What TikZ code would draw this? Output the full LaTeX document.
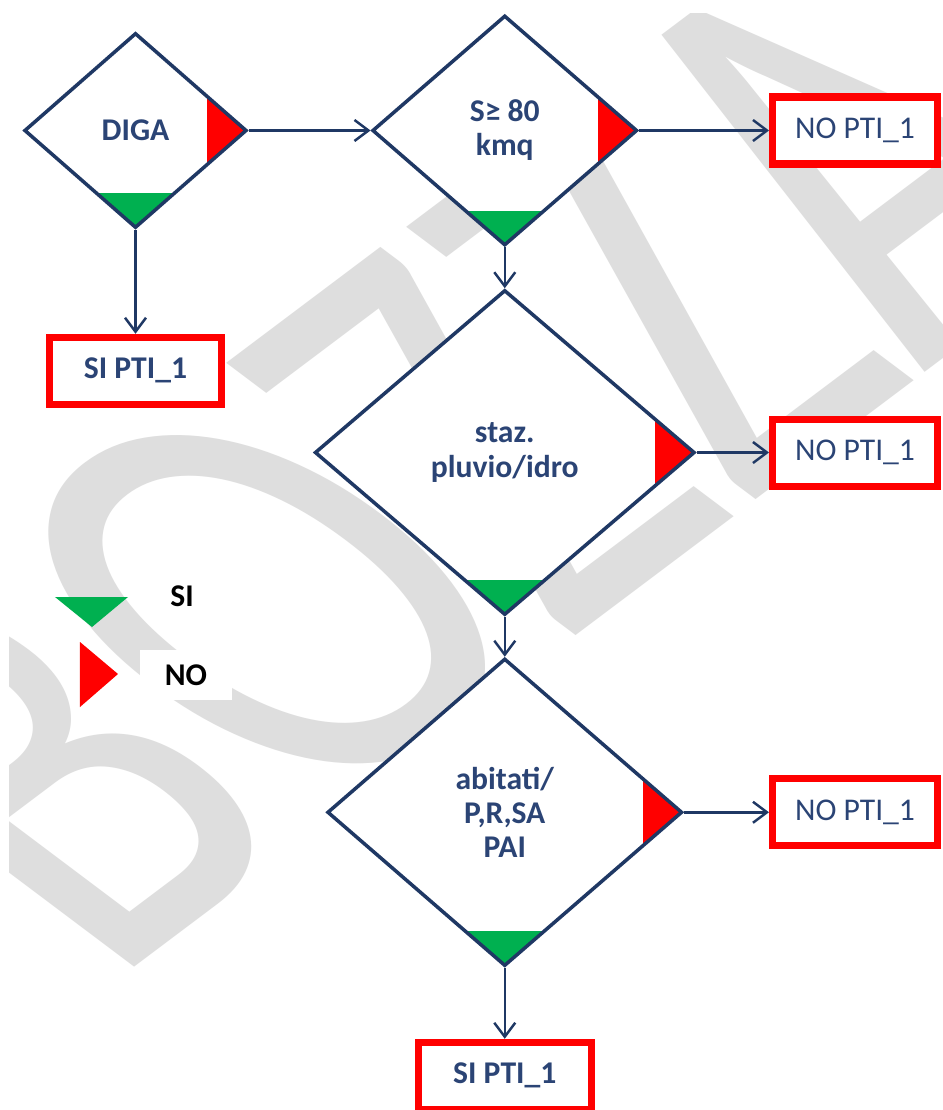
\documentclass[tikz,border=0pt]{standalone}
\usepackage{fontspec}
\usepackage{graphicx}
\setmainfont{Carlito}
\usetikzlibrary{positioning, shapes.geometric, arrows.meta}
\definecolor{navy}{HTML}{1F3864}
\definecolor{navytext}{HTML}{2B4475}
\definecolor{nored}{HTML}{FF0000}
\definecolor{sigreen}{HTML}{00B050}
\definecolor{wmgray}{HTML}{DEDEDE}
\newcommand{\chartfont}{\fontsize{18}{19.4}\selectfont}
\tikzset{decision/.style={diamond, draw=navy, line width=2pt, fill=white, text=navytext, font=\chartfont\bfseries, align=center, inner sep=0pt,
    path picture={
      \fill[nored] ([xshift=-0.78cm]path picture bounding box.north east) rectangle (path picture bounding box.south east);
      \fill[sigreen] (path picture bounding box.south west) rectangle ([yshift=0.68cm]path picture bounding box.south east);}},
  outcome/.style={draw=nored, line width=4pt, fill=white, text=navytext, font=\chartfont, minimum width=3.3cm, minimum height=1.34cm},
  legendtext/.style={fill=white, font=\chartfont\bfseries, inner xsep=0.5cm, minimum height=1cm},
  line/.style={draw=navy, line width=1.4pt, -{Straight Barb[length=0.28cm, width=0.42cm]}}
}
\begin{document}
\begin{tikzpicture}
\path[use as bounding box, fill=white] (-2.71,2.61) rectangle (16.15,-19.59);

\begin{scope}
\clip (-2.51,2.33) rectangle (16.15,-19.59);
\begin{scope}[shift={(6.27,-6.65)}, xscale=1.33, rotate=45]
\node[transform shape, text=wmgray, font=\fontsize{233}{233}\selectfont] (wm) at (0,0) {\scalebox{1}[1.44]{BOZZA}};
\end{scope}
\end{scope}

\node[decision, minimum width=4.45cm, minimum height=3.9cm] (diga) {DIGA};
\node[decision, minimum width=5.3cm, minimum height=4.6cm, right=2.44cm of diga] (s80) {S≥ 80\\kmq};
\node[decision, minimum width=7.6cm, minimum height=6.5cm, below=0.82cm of s80] (staz) {staz.\\pluvio/idro};
\node[decision, minimum width=7.1cm, minimum height=6.15cm, below=0.8cm of staz] (abit) {abitati/\\P,R,SA\\PAI};

\node[outcome, font=\chartfont\bfseries, minimum width=3.45cm, below=2.08cm of diga] (si1) {SI PTI\_1};
\node[outcome, right=2.6cm of s80] (no1) {NO PTI\_1};
\node[outcome] (no2) at (no1 |- staz) {NO PTI\_1};
\node[outcome] (no3) at (no1 |- abit) {NO PTI\_1};
\node[outcome, font=\chartfont\bfseries, minimum width=3.45cm, below=1.42cm of abit] (si2) {SI PTI\_1};

\draw[line] (diga) -- (s80);
\draw[line] (s80) -- (no1);
\draw[line] (diga) -- (si1);
\draw[line] (s80) -- (staz);
\draw[line] (staz) -- (no2);
\draw[line] (staz) -- (abit);
\draw[line] (abit) -- (no3);
\draw[line] (abit) -- (si2);

\fill[sigreen] (-1.61,-9.33) -- (-0.15,-9.33) -- (-0.87,-9.93) -- cycle;
\fill[nored] (-1.11,-10.23) -- (-1.11,-11.53) -- (-0.35,-10.87) -- cycle;
\node[legendtext] (si) at (0.93,-9.31) {SI};
\node[legendtext] (no) at (1.01,-10.89) {NO};
\end{tikzpicture}
\end{document}
